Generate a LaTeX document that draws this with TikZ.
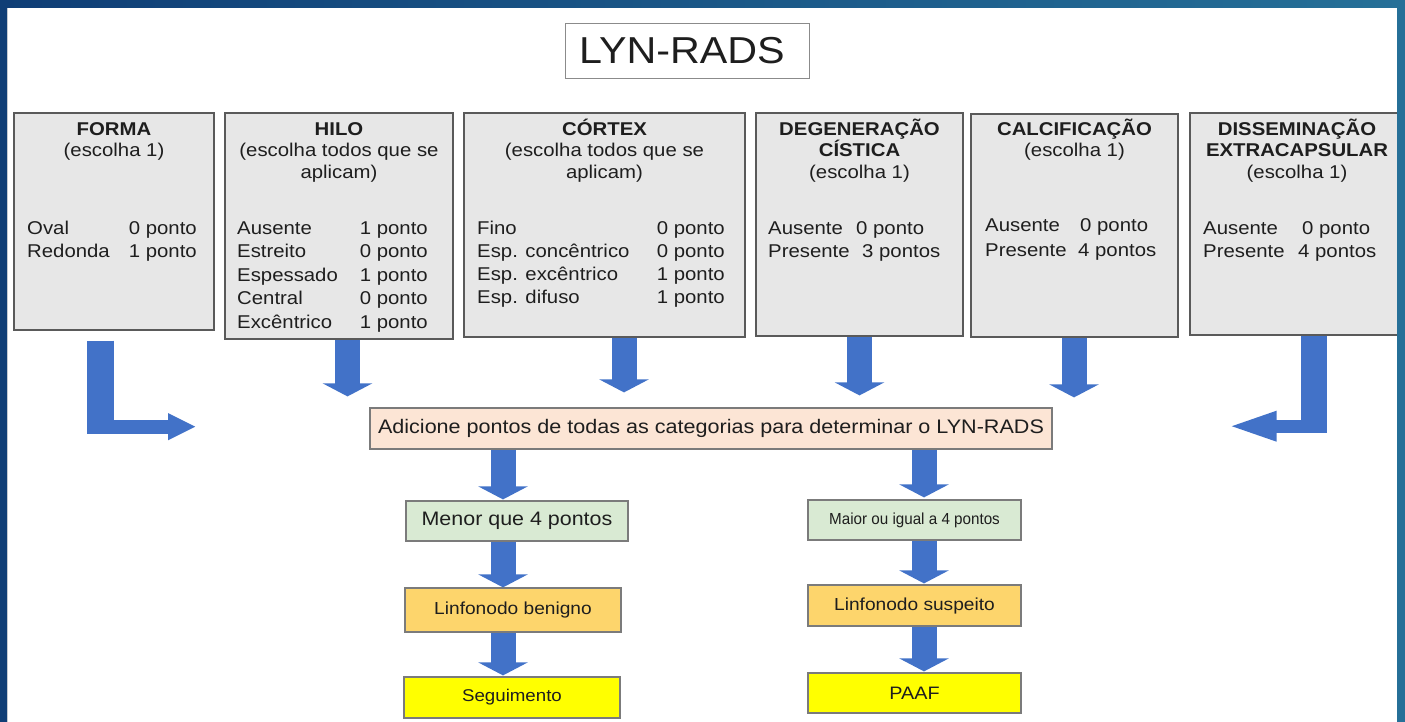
\documentclass[tikz,border=0pt]{standalone}
\usepackage{fontspec}
\setmainfont{Liberation Sans}[FakeStretch=1.1]
\newfontfamily\narrowfont{Liberation Sans}[FakeStretch=0.95]
\usetikzlibrary{arrows.meta,calc}
\definecolor{arrowblue}{RGB}{66,114,200}
\definecolor{frameA}{RGB}{15,62,118}
\definecolor{frameB}{RGB}{38,112,152}
\definecolor{boxgray}{HTML}{E7E7E7}
\definecolor{boxline}{HTML}{5A5A5A}
\definecolor{peach}{HTML}{FCE5D5}
\definecolor{lgreen}{HTML}{D9EAD3}
\definecolor{lorange}{HTML}{FDD56C}
\definecolor{lyellow}{HTML}{FFFF00}
\definecolor{txt}{HTML}{1E1E1E}
\newcommand\fsn{\fontsize{18.5}{22}\selectfont}
\begin{document}
\begin{tikzpicture}[x=1pt,y=-1pt,
  cat/.style={draw=boxline,line width=1.4pt,fill=boxgray,inner sep=0pt,rectangle},
  flowbox/.style={draw=boxline!80,line width=1.2pt,inner sep=0pt,rectangle,text=txt,align=center},
  ttl/.style={anchor=base,inner sep=0pt,font=\fsn\bfseries,text=txt},
  sub/.style={anchor=base,inner sep=0pt,font=\fsn,text=txt},
  lab/.style={anchor=base west,inner sep=0pt,font=\fsn,text=txt},
  valr/.style={anchor=base east,inner sep=0pt,font=\fsn,text=txt},
  vall/.style={anchor=base west,inner sep=0pt,font=\fsn,text=txt},
  bigarrow/.style={draw=arrowblue,line width=25pt,-{Triangle[width=49pt,length=13pt]}}]
\useasboundingbox (0,0) rectangle (1405,722);
\fill[white] (0,0) rectangle (1405,722);

% title
\node[draw=boxline!70,line width=1pt,fill=white,minimum width=244pt,minimum height=55pt,inner sep=0pt] (title) at (687,51.5) {};
\node[anchor=base,inner sep=0pt,font=\fontsize{37.5}{42}\selectfont,text=txt] (titletext) at (682,64) {LYN-RADS};

% category boxes
\node[cat,minimum width=200pt,minimum height=217pt] (forma) at (114,221.5) {};
\node[cat,minimum width=228pt,minimum height=226pt] (hilo) at (339,226) {};
\node[cat,minimum width=281pt,minimum height=224pt] (cortex) at (604.5,225) {};
\node[cat,minimum width=207pt,minimum height=223pt] (degen) at (859.5,224.5) {};
\node[cat,minimum width=207pt,minimum height=223pt] (calcif) at (1074.5,225.5) {};
\node[cat,minimum width=209pt,minimum height=222pt] (dissem) at (1294.5,224) {};

% FORMA
\node[ttl] (t1) at (114,136) {FORMA};
\node[sub] (t1b) at (114,157) {(escolha 1)};
\node[lab] (f1) at (27,234) {Oval};
\node[valr] (f1v) at (197,234) {0 ponto};
\node[lab] (f2) at (27,257) {Redonda};
\node[valr] (f2v) at (197,257) {1 ponto};

% HILO
\node[ttl] (t2) at (339,136) {HILO};
\node[sub] (t2b) at (339,157) {(escolha todos que se};
\node[sub] (t2c) at (339,179) {aplicam)};
\node[lab] (h1) at (237,234) {Ausente};
\node[valr] (h1v) at (428,234) {1 ponto};
\node[lab] (h2) at (237,257.5) {Estreito};
\node[valr] (h2v) at (428,257.5) {0 ponto};
\node[lab] (h3) at (237,281) {Espessado};
\node[valr] (h3v) at (428,281) {1 ponto};
\node[lab] (h4) at (237,304.5) {Central};
\node[valr] (h4v) at (428,304.5) {0 ponto};
\node[lab] (h5) at (237,328) {Excêntrico};
\node[valr] (h5v) at (428,328) {1 ponto};

% CORTEX
\node[ttl] (t3) at (604.5,136) {CÓRTEX};
\node[sub] (t3b) at (604.5,157) {(escolha todos que se};
\node[sub] (t3c) at (604.5,179) {aplicam)};
\node[lab] (c1) at (477,234) {Fino};
\node[valr] (c1v) at (725,234) {0 ponto};
\node[lab] (c2) at (477,257) {Esp. concêntrico};
\node[valr] (c2v) at (725,257) {0 ponto};
\node[lab] (c3) at (477,280) {Esp. excêntrico};
\node[valr] (c3v) at (725,280) {1 ponto};
\node[lab] (c4) at (477,303) {Esp. difuso};
\node[valr] (c4v) at (725,303) {1 ponto};

% DEGENERACAO
\node[ttl] (t4) at (859.5,136) {DEGENERAÇÃO};
\node[ttl] (t4b) at (859.5,157) {CÍSTICA};
\node[sub] (t4c) at (859.5,179) {(escolha 1)};
\node[lab] (d1) at (768,234) {Ausente};
\node[vall] (d1v) at (856,234) {0 ponto};
\node[lab] (d2) at (768,257) {Presente};
\node[vall] (d2v) at (862,257) {3 pontos};

% CALCIFICACAO
\node[ttl] (t5) at (1074.5,136) {CALCIFICAÇÃO};
\node[sub] (t5b) at (1074.5,157) {(escolha 1)};
\node[lab] (k1) at (985,232) {Ausente};
\node[vall] (k1v) at (1080,232) {0 ponto};
\node[lab] (k2) at (985,256) {Presente};
\node[vall] (k2v) at (1078,256) {4 pontos};

% DISSEMINACAO
\node[ttl] (t6) at (1297,136) {DISSEMINAÇÃO};
\node[ttl] (t6b) at (1297,157) {EXTRACAPSULAR};
\node[sub] (t6c) at (1297,179) {(escolha 1)};
\node[lab] (s1) at (1203,234) {Ausente};
\node[vall] (s1v) at (1302,234) {0 ponto};
\node[lab] (s2) at (1203,257) {Presente};
\node[vall] (s2v) at (1298,257) {4 pontos};

% flow boxes
\node[flowbox,fill=peach,minimum width=682pt,minimum height=41pt,font=\fontsize{19.6}{22}\selectfont] (sum) at (711,428.5) {Adicione pontos de todas as categorias para determinar o LYN-RADS};
\node[flowbox,fill=lgreen,minimum width=222pt,minimum height=40pt,font=\fontsize{19.5}{22}\selectfont] (menor) at (517,521) {Menor que 4 pontos};
\node[flowbox,fill=lgreen,minimum width=213pt,minimum height=40pt,font=\narrowfont\fontsize{16}{18}\selectfont] (maior) at (914.5,520) {Maior ou igual a 4 pontos};
\node[flowbox,fill=lorange,minimum width=216pt,minimum height=44pt,font=\fontsize{17.4}{20}\selectfont] (benigno) at (513,610) {Linfonodo benigno};
\node[flowbox,fill=lorange,minimum width=213pt,minimum height=41pt,font=\fontsize{17.4}{20}\selectfont] (suspeito) at (914.5,605.5) {Linfonodo suspeito};
\node[flowbox,fill=lyellow,minimum width=216pt,minimum height=41pt,font=\fontsize{17}{20}\selectfont] (seguimento) at (512,697.5) {Seguimento};
\node[flowbox,fill=lyellow,minimum width=213pt,minimum height=40pt,font=\fontsize{18}{20}\selectfont] (paaf) at (914.5,693) {PAAF};

% straight arrows into sum
\coordinate (ah) at ($(hilo.south)+(8.5,0)$);
\coordinate (ac) at ($(cortex.south)+(19.5,0)$);
\coordinate (ad) at ($(degen.south)+(0,0)$);
\coordinate (ak) at ($(calcif.south)+(-0.5,0)$);
\draw[bigarrow,shorten >=11pt] (ah) -- (ah |- sum.north);
\draw[bigarrow,shorten >=15pt] (ac) -- (ac |- sum.north);
\draw[bigarrow,shorten >=12pt] (ad) -- (ad |- sum.north);
\draw[bigarrow,shorten >=10pt] (ak) -- (ak |- sum.north);

% L arrows
\coordinate (fa) at ($(forma.south)+(-13.5,10)$);
\coordinate (fb) at ($(fa)+(0,93)$);
\coordinate (fc) at ($(forma.south)+(-1,96)$);
\coordinate (fd) at ($(fc)+(83,0)$);
\draw[draw=arrowblue,line width=27pt] (fa) -- (fb);
\draw[draw=arrowblue,line width=14pt,-{Triangle[width=25pt,length=28pt]}] (fc) -- (fd);

\coordinate (da) at ($(dissem.south)+(19.5,0)$);
\coordinate (db) at ($(da)+(0,97)$);
\coordinate (dc) at ($(dissem.south)+(7,90.5)$);
\coordinate (dd) at ($(dc)+(-76,0)$);
\draw[draw=arrowblue,line width=26pt] (da) -- (db);
\draw[draw=arrowblue,line width=13pt,-{Triangle[width=26pt,length=51pt]}] (dc) -- (dd);

% lower arrows
\coordinate (sl) at (503,449);
\coordinate (sr) at (924,449);
\draw[bigarrow,shorten >=1pt] (sum.south -| sl) -- (menor.north -| sl);
\draw[bigarrow,shorten >=2pt] (sum.south -| sr) -- (maior.north -| sr);
\draw[bigarrow] (menor.south -| sl) -- (benigno.north -| sl);
\draw[bigarrow,shorten >=1pt] (maior.south -| sr) -- (suspeito.north -| sr);
\draw[bigarrow,shorten >=1pt] (benigno.south -| sl) -- (seguimento.north -| sl);
\draw[bigarrow,shorten >=1pt] (suspeito.south -| sr) -- (paaf.north -| sr);

% frame
\fill[left color=frameA,right color=frameB,even odd rule] (0,0) rectangle (1405,722) (7,8) rectangle (1397,723);
\end{tikzpicture}
\end{document}
